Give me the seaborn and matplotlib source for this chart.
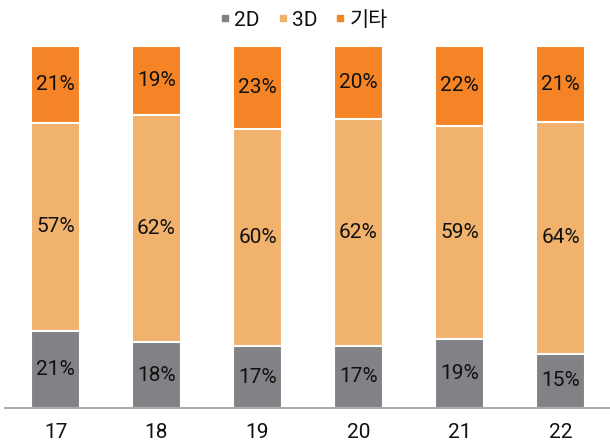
import matplotlib
matplotlib.use("Agg")
import matplotlib.pyplot as plt
import seaborn as sns
import numpy as np
import pandas as pd
from matplotlib.lines import Line2D

sns.set_style("white")
plt.rcParams['font.family'] = ['Roboto', 'Noto Sans CJK KR', 'DejaVu Sans']

categories = ["17", "18", "19", "20", "21", "22"]
series_names = ["2D", "3D", "기타"]
v2d = [21, 18, 17, 17, 19, 15]
v3d = [57, 62, 60, 62, 59, 64]
vetc = [21, 19, 23, 20, 22, 21]
colors = ["#808285", "#F0B26C", "#F58426"]

df = pd.DataFrame({"cat": categories, "2D": v2d, "3D": v3d, "기타": vetc})
tot = df[series_names].sum(axis=1)
share = df[series_names].div(tot, axis=0) * 100

fig = plt.figure(figsize=(6.1, 4.43), dpi=100)
ax = fig.add_axes([5/610, 1 - 408/443, 606/610, (408-46)/443])

cum = np.zeros(len(categories))
tops = []
for name in series_names:
    cum = cum + share[name].values
    tops.append(cum.copy())

for name, col, top in reversed(list(zip(series_names, colors, tops))):
    sns.barplot(x=categories, y=top, color=col, width=0.49, ax=ax,
                edgecolor="white", linewidth=1.5, saturation=1)

prev = np.zeros(len(categories))
for name, top in zip(series_names, tops):
    vals = df[name].values
    for i in range(len(categories)):
        ax.text(i, (prev[i] + top[i]) / 2, f"{vals[i]}%", ha="center", va="center",
                fontsize=15, color="#111111")
    prev = top

ax.set_xlim(-0.5, 5.5)
ax.set_ylim(0, 100)
ax.set_yticks([])
for s in ["top", "left", "right"]:
    ax.spines[s].set_visible(False)
ax.spines["bottom"].set_color("#999999")
ax.spines["bottom"].set_linewidth(1.2)
ax.set_xticks(np.arange(-0.5, 6, 1), minor=True)
ax.tick_params(axis="x", which="minor", direction="in", length=5, color="#999999", width=1.2)
ax.tick_params(axis="x", which="major", length=0, pad=11, labelsize=15, labelcolor="#111111")
ax.set_xticks(range(len(categories)))
ax.set_xticklabels(categories)

handles = [Line2D([0], [0], marker="s", linestyle="", markersize=4.5,
                  markerfacecolor=c, markeredgecolor=c) for c in colors]
fig.legend(handles, series_names, loc="center", bbox_to_anchor=(0.498, 1 - 20/443),
           ncol=3, frameon=False, fontsize=15, handletextpad=0.2, handlelength=0.5,
           columnspacing=0.85, labelcolor="#111111")

fig.savefig("out.png", dpi=100)
